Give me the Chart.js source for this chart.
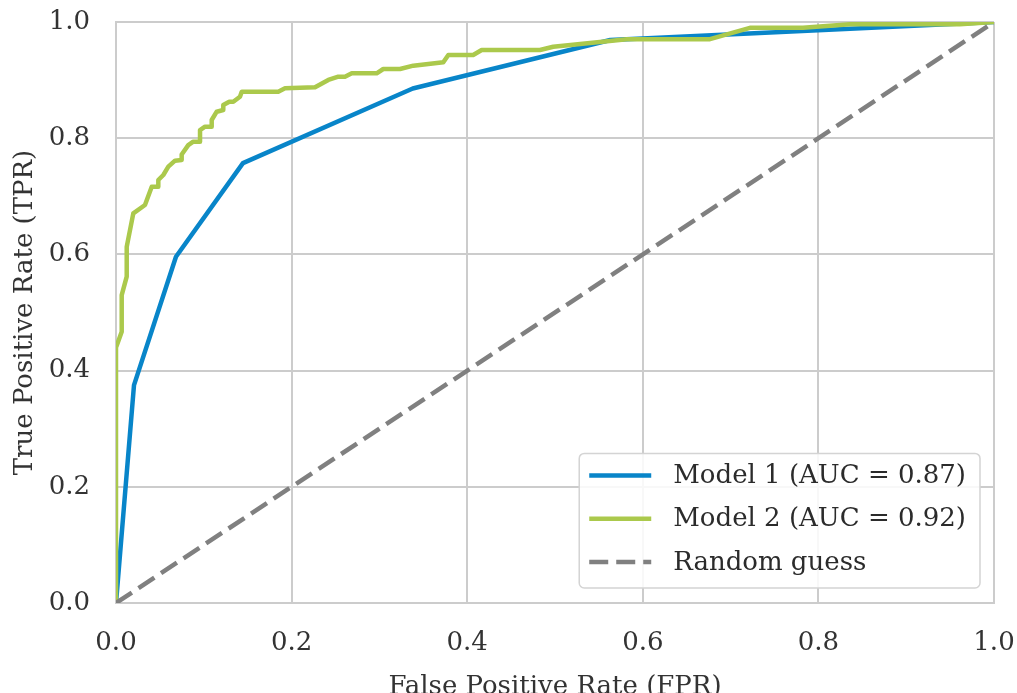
<!DOCTYPE html>
<html>
<head>
<meta charset="utf-8">
<script src="https://cdn.jsdelivr.net/npm/chart.js@4.4.1/dist/chart.umd.min.js"></script>
<style>
    body { margin: 0; background: #fff; }
    .chart-wrap { width: 1017px; height: 693px; position: relative; }
</style>
</head>
<body>
<div class="chart-wrap"><canvas id="rocChart"></canvas></div>
<script>
// ROC curves
const blueFpr = [0, 0.0205, 0.0683, 0.1446, 0.338, 0.563, 1];
const blueTpr = [0, 0.375, 0.596, 0.757, 0.8855, 0.969, 1];

const greenFpr = [0, 0, 0.0015, 0.0065, 0.0065, 0.0122, 0.0122, 0.0197, 0.033, 0.0407,
    0.0482, 0.0482, 0.0539, 0.0596, 0.0672, 0.0748, 0.0748, 0.0823, 0.088, 0.0957,
    0.0957, 0.1014, 0.109, 0.109, 0.1147, 0.1222, 0.1222, 0.129, 0.1336, 0.1412,
    0.1432, 0.1848, 0.1925, 0.2267, 0.2418, 0.2532, 0.2608, 0.2685, 0.2969, 0.3044,
    0.3235, 0.3386, 0.3728, 0.3785, 0.4068, 0.4165, 0.4829, 0.498, 0.5817, 0.6765,
    0.722, 0.7825, 0.836, 0.961, 1];
const greenTpr = [0, 0.44, 0.446, 0.467, 0.530, 0.5616, 0.613, 0.6707, 0.685, 0.7165,
    0.7165, 0.728, 0.7367, 0.751, 0.7613, 0.7625, 0.772, 0.788, 0.794, 0.794,
    0.814, 0.8198, 0.8198, 0.8313, 0.8456, 0.8485, 0.857, 0.8628, 0.8628, 0.8714,
    0.880, 0.880, 0.8859, 0.8876, 0.9002, 0.9059, 0.9059, 0.9117, 0.9117, 0.9191,
    0.9191, 0.9248, 0.9306, 0.9432, 0.9432, 0.9518, 0.9518, 0.9575, 0.9705, 0.9705,
    0.990, 0.990, 0.996, 0.996, 1];

const guessFpr = [0, 1];
const guessTpr = [0, 1];

const seriesLabels = ['Model 1 (AUC = 0.87)', 'Model 2 (AUC = 0.92)', 'Random guess'];
const axisTicks = [0, 0.2, 0.4, 0.6, 0.8, 1.0];

const FONT = "'DejaVu Serif', serif";
const toPoints = (xs, ys) => xs.map((x, i) => ({ x, y: ys[i] }));

// legend drawn inside the plot, lower right
const insideLegend = {
    id: 'insideLegend',
    afterDraw(chart) {
        const ctx = chart.ctx;
        const area = chart.chartArea;
        const items = chart.data.datasets;
        ctx.save();
        ctx.font = '26px ' + FONT;
        const textW = Math.max(...items.map(d => ctx.measureText(d.label).width));
        const w = 10 + 62 + 22 + textW + 14;
        const rowH = 43.3;
        const h = 22 + rowH * 2 + 26;
        const x0 = area.right - 14 - w;
        const y0 = area.bottom - 15 - h;

        ctx.beginPath();
        ctx.roundRect(x0, y0, w, h, 5);
        ctx.fillStyle = 'rgba(255,255,255,0.85)';
        ctx.fill();
        ctx.lineWidth = 1.5;
        ctx.strokeStyle = '#d4d4d4';
        ctx.stroke();

        items.forEach((d, i) => {
            const y = y0 + 22 + i * rowH;
            ctx.beginPath();
            ctx.setLineDash(d.borderDash || []);
            ctx.lineCap = 'butt';
            ctx.lineWidth = d.borderWidth;
            ctx.strokeStyle = d.borderColor;
            ctx.moveTo(x0 + 10, y);
            ctx.lineTo(x0 + 72, y);
            ctx.stroke();
            ctx.setLineDash([]);
            ctx.fillStyle = '#2b2b2b';
            ctx.textBaseline = 'middle';
            ctx.textAlign = 'left';
            ctx.fillText(d.label, x0 + 94, y + 1);
        });
        ctx.restore();
    }
};

// drop the extra room Chart.js reserves for the end labels, layout padding handles it
const noLabelPadding = scale => {
    scale.paddingTop = 0;
    scale.paddingBottom = 0;
    scale.paddingLeft = 0;
    scale.paddingRight = 0;
};

const axisCommon = {
    type: 'linear',
    min: 0,
    max: 1,
    afterBuildTicks: scale => { scale.ticks = axisTicks.map(v => ({ value: v })); },
    grid: { color: '#cccccc', lineWidth: 2, drawTicks: false },
    border: { color: '#cccccc', width: 2 }
};

new Chart(document.getElementById('rocChart'), {
    type: 'scatter',
    data: {
        datasets: [
            {
                label: seriesLabels[0],
                data: toPoints(blueFpr, blueTpr),
                borderColor: '#0885c9',
                borderWidth: 4.5,
                order: 3
            },
            {
                label: seriesLabels[1],
                data: toPoints(greenFpr, greenTpr),
                borderColor: '#abc94c',
                borderWidth: 4.5,
                order: 2
            },
            {
                label: seriesLabels[2],
                data: toPoints(guessFpr, guessTpr),
                borderColor: '#808080',
                borderWidth: 4.5,
                borderDash: [19, 8],
                order: 1
            }
        ].map(d => Object.assign(d, {
            showLine: true,
            pointRadius: 0,
            pointHoverRadius: 0,
            tension: 0,
            fill: false,
            clip: 0,
            borderJoinStyle: 'round',
            borderCapStyle: 'butt'
        }))
    },
    options: {
        responsive: true,
        maintainAspectRatio: false,
        animation: false,
        layout: { padding: { top: 22, right: 23, left: 0, bottom: 0 } },
        plugins: {
            legend: { display: false },
            tooltip: { enabled: false }
        },
        scales: {
            x: Object.assign({}, axisCommon, {
                position: 'bottom',
                afterFit: scale => { scale.height = 90; noLabelPadding(scale); },
                ticks: {
                    padding: 25,
                    color: '#333',
                    font: { family: FONT, size: 26 },
                    callback: v => v.toFixed(1)
                },
                title: {
                    display: true,
                    text: 'False Positive Rate (FPR)',
                    color: '#333',
                    font: { family: FONT, size: 26, lineHeight: 1 },
                    padding: { top: 0, bottom: -7 }
                }
            }),
            y: Object.assign({}, axisCommon, {
                position: 'left',
                afterFit: scale => { scale.width = 116; noLabelPadding(scale); },
                ticks: {
                    padding: 26,
                    color: '#333',
                    font: { family: FONT, size: 26 },
                    callback: v => v.toFixed(1)
                },
                title: {
                    display: true,
                    text: 'True Positive Rate (TPR)',
                    color: '#333',
                    font: { family: FONT, size: 26, lineHeight: 1.2 },
                    padding: { top: 10, bottom: 0 }
                }
            })
        }
    },
    plugins: [insideLegend]
});
</script>
</body>
</html>
